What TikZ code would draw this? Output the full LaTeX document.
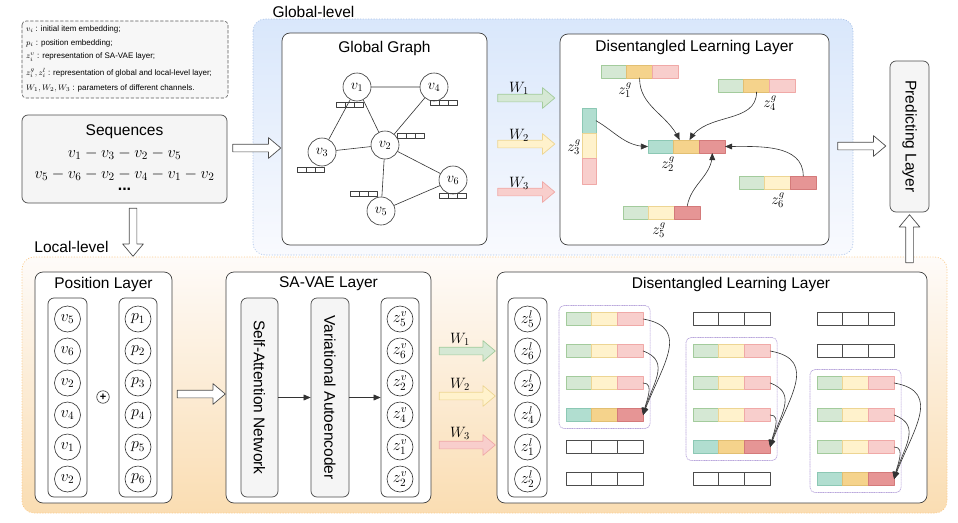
\documentclass[tikz,border=0pt]{standalone}
\usepackage{fix-cm}
\usepackage[no-math]{fontspec}
\setmainfont{Liberation Sans}
\usetikzlibrary{arrows}
\usetikzlibrary{positioning,calc,fit,shapes.arrows}

\definecolor{grnF}{HTML}{D5E8D4}
\definecolor{grnD}{HTML}{A3CB9C}
\definecolor{yelF}{HTML}{FFF2CC}
\definecolor{yelD}{HTML}{EDD593}
\definecolor{pnkF}{HTML}{F8CECC}
\definecolor{pnkD}{HTML}{F0A9A7}
\definecolor{tealF}{HTML}{B1DED0}
\definecolor{tealD}{HTML}{8CC8B4}
\definecolor{orgF}{HTML}{F5D38C}
\definecolor{orgD}{HTML}{E2BF72}
\definecolor{redF}{HTML}{E69595}
\definecolor{redD}{HTML}{D47A7A}
\definecolor{gbgF}{HTML}{F5F5F5}
\definecolor{blueTop}{HTML}{D9E7FB}
\definecolor{blueBot}{HTML}{F9FAFE}
\definecolor{blueLine}{HTML}{A9C2E8}
\definecolor{orgTop}{HTML}{FEFBF9}
\definecolor{orgBot}{HTML}{FADDB2}
\definecolor{orgLine}{HTML}{FBCB8C}
\definecolor{grpLine}{HTML}{B7A4DB}

% three cells in a row, west end at (#2,#3)
\newcommand{\cellbar}[6]{%
\node[cell,#4,anchor=west] (#1-1) at (#2,#3) {};
\node[cell,#5,right=0pt of #1-1] (#1-2) {};
\node[cell,#6,right=0pt of #1-2] (#1-3) {};
}
% small embedding bar of a graph vertex
\newcommand{\minibar}[2]{%
\draw[line width=0.6pt,draw=black!75] (#1-13.5,#2-2.5) rectangle (#1+13.5,#2+2.5);
\draw[line width=0.6pt,draw=black!75] (#1-4.5,#2-2.5) -- (#1-4.5,#2+2.5) (#1+4.5,#2-2.5) -- (#1+4.5,#2+2.5);
}

\begin{document}
\begin{tikzpicture}[line cap=round,line join=round,>=triangle 45,x=1pt,y=-1pt,
ttl/.style={font=\fontsize{15.5}{18}\selectfont},
box/.style={draw=black!75,fill=white,rounded corners=8pt,line width=0.7pt},
gbox/.style={draw=black!70,fill=gbgF,rounded corners=6pt,line width=0.7pt},
col/.style={draw=black!75,fill=white,rounded corners=6pt,line width=0.7pt,minimum width=39pt,minimum height=199pt},
vtx/.style={circle,draw=black!80,fill=white,minimum size=26pt,inner sep=0pt,line width=0.6pt,font=\fontsize{16}{16}\selectfont},
gvtx/.style={vtx,minimum size=28pt,font=\fontsize{14.5}{14.5}\selectfont},
cell/.style={minimum width=25.7pt,minimum height=13pt,inner sep=0pt,outer sep=0pt,line width=0.7pt},
vcell/.style={minimum width=14pt,minimum height=25.3pt,inner sep=0pt,outer sep=0pt,line width=0.7pt},
cg/.style={fill=grnF,draw=grnD},
cy/.style={fill=yelF,draw=yelD},
cp/.style={fill=pnkF,draw=pnkD},
ct/.style={fill=tealF,draw=tealD},
co/.style={fill=orgF,draw=orgD},
cr/.style={fill=redF,draw=redD},
cw/.style={fill=white,draw=black!70},
conn/.style={draw=black!80,line width=0.6pt},
fat/.style={single arrow,draw=black!70,fill=white,line width=0.7pt,minimum height=48pt,inner xsep=0pt,inner ysep=3.5pt,single arrow head extend=6.5pt,single arrow tip angle=80},
vfat/.style={fat,inner xsep=3.5pt,inner ysep=0pt},
wfat/.style={fat,minimum height=57pt},
wlab/.style={font=\fontsize{15}{15}\selectfont},
zlab/.style={font=\fontsize{15}{15}\selectfont},
lgd/.style={anchor=west,font=\fontsize{8}{9}\selectfont,inner sep=0pt},
grp/.style={draw=grpLine,densely dotted,rounded corners=5pt,inner sep=7pt,line width=0.7pt}]
\useasboundingbox (0,0) rectangle (958,522);

% regions
\draw[rounded corners=12pt,top color=blueTop,bottom color=blueBot,draw=blueLine,dotted,line width=0.7pt] (253,19) rectangle (853,255);
\draw[rounded corners=12pt,top color=orgTop,bottom color=orgBot,draw=orgLine,dotted,line width=0.7pt] (22,257) rectangle (947,513);
\node[ttl] (glev) at (313.5,12) {Global-level};
\node[ttl] (llev) at (71.5,247) {Local-level};

% legend
\draw[densely dashed,draw=black!65,fill=black!3,rounded corners=4pt,line width=0.6pt] (22,21) rectangle (228,98);
\node[lgd] (lg1) at (26,29) {$v_i$ : initial item embedding;};
\node[lgd] (lg2) at (26,43) {$p_i$ : position embedding;};
\node[lgd] (lg3) at (26,57) {$z_i^v$ : representation of SA-VAE layer;};
\node[lgd] (lg4) at (26,73) {$z_i^g, z_i^l$ : representation of global and local-level layer;};
\node[lgd] (lg5) at (26,88) {$W_1, W_2, W_3$ : parameters of different channels.};

% sequences
\node[gbox,minimum width=205pt,minimum height=88pt] (seq) at (124.5,159) {};
\node[ttl] (seqt) at (124.5,132) {Sequences};
\node[font=\fontsize{16}{16}\selectfont] (seq1) at (124.5,154) {$v_1 - v_3 - v_2 - v_5$};
\node[font=\fontsize{16}{16}\selectfont] (seq2) at (124.5,175) {$v_5 - v_6 - v_2 - v_4 - v_1 - v_2$};
\node[font=\fontsize{16}{16}\selectfont] (seq3) at (124.5,189) {\textbf{...}};
\node[fat] (a1) at (254.5,148) {};
\node[vfat,shape border rotate=270] (a2) at (133,230) {};

% global graph
\node[box,minimum width=205pt,minimum height=212pt] (gg) at (384.5,139) {};
\node[ttl] (ggt) at (384.5,48) {Global Graph};
\node[gvtx] (v1) at (357,87) {$v_1$};
\node[gvtx] (v4) at (434,87) {$v_4$};
\node[gvtx] (v3) at (322,152) {$v_3$};
\node[gvtx] (v2) at (385,145) {$v_2$};
\node[gvtx] (v6) at (453,180) {$v_6$};
\node[gvtx] (v5) at (381,211) {$v_5$};
\draw[conn] (v1) -- (v4) (v1) -- (v3) (v1) -- (v2) (v4) -- (v2) (v3) -- (v2) (v2) -- (v6) (v2) -- (v5) (v5) -- (v6);
\foreach \x/\y in {350/105,444/103,411/136,311/170,364/194,453/196} {\minibar{\x}{\y}}

% channels to global disentangling
\node[wfat,fill=grnF,draw=grnD] (gw1) at (524,98) {};
\node[wfat,fill=yelF,draw=yelD] (gw2) at (524,144) {};
\node[wfat,fill=pnkF,draw=pnkD] (gw3) at (524,192) {};
\node[wlab] (gw1l) at (519,88) {$W_1$};
\node[wlab] (gw2l) at (519,135) {$W_2$};
\node[wlab] (gw3l) at (519,183) {$W_3$};

% global disentangled learning layer
\node[box,minimum width=269pt,minimum height=211pt] (gdl) at (694.5,139.5) {};
\node[ttl] (gdlt) at (694.5,47) {Disentangled Learning Layer};
\cellbar{z1}{601}{71.5}{cg}{co}{cp}
\cellbar{z4}{718}{85.5}{cg}{co}{cp}
\cellbar{z2}{648}{146.5}{ct}{co}{cr}
\cellbar{z6}{739}{182.5}{cg}{cy}{cr}
\cellbar{z5}{623}{212.5}{cg}{cy}{cr}
\node[vcell,ct] (z3-1) at (589,120.7) {};
\node[vcell,cy,below=0pt of z3-1] (z3-2) {};
\node[vcell,cp,below=0pt of z3-2] (z3-3) {};
\node[zlab] (z1l) at (625,90) {$z_1^g$};
\node[zlab] (z4l) at (770,103) {$z_4^g$};
\node[zlab] (z3l) at (574,147) {$z_3^g$};
\node[zlab] (z2l) at (668,164) {$z_2^g$};
\node[zlab] (z6l) at (778,200) {$z_6^g$};
\node[zlab] (z5l) at (659,230) {$z_5^g$};
\draw[conn,->] (z1-2.south) to[out=-90,in=115] ([xshift=-7pt]z2-2.north);
\draw[conn,->] (z4-2.south) to[out=-90,in=60] ([xshift=3pt]z2-2.north);
\draw[conn,->] (z3-1.east) to[out=-30,in=180] (z2-1.west);
\draw[conn,->] (z6-3.north) to[out=90,in=0] (z2-3.east);
\draw[conn,->] (z5-3.north) to[out=80,in=-90] (z2-3.south);

% predicting layer
\node[gbox,minimum width=39pt,minimum height=151pt] (pred) at (909.5,136.5) {};
\node[ttl,rotate=-90] (predt) at (pred) {Predicting Layer};
\node[fat] (a3) at (859.5,146) {};
\node[vfat,shape border rotate=90] (a4) at (909.5,241) {};

% position layer
\node[box,minimum width=137pt,minimum height=231pt] (pos) at (103.5,387.5) {};
\node[ttl] (post) at (103.5,284) {Position Layer};
\node[col] (vcol) at (67.5,397.5) {};
\node[col,minimum width=38pt] (pcol) at (138,397.5) {};
\node[circle,draw=black!80,minimum size=12.5pt,inner sep=0pt,line width=0.6pt,font=\fontsize{11}{11}\selectfont\bfseries] (plus) at (103,397) {+};
\node[fat] (a5) at (199,394) {};

% SA-VAE layer
\node[box,minimum width=205pt,minimum height=231pt] (sav) at (328.5,387.5) {};
\node[ttl] (savt) at (328.5,284) {SA-VAE Layer};
\node[gbox,minimum width=37pt,minimum height=199pt] (sa) at (259.5,397.5) {};
\node[ttl,rotate=-90] (sat) at (sa) {Self-Attention Network};
\node[gbox,minimum width=38pt,minimum height=199pt] (va) at (330,397.5) {};
\node[ttl,rotate=-90] (vat) at (va) {Variational Autoencoder};
\node[col,minimum width=38pt] (zvcol) at (400,397.5) {};
\draw[conn,->] (sa) -- (va);
\draw[conn,->] (va) -- (zvcol);

% channels to local disentangling
\node[wfat,minimum height=56pt,fill=grnF,draw=grnD] (lw1) at (465,351) {};
\node[wfat,minimum height=56pt,fill=yelF,draw=yelD] (lw2) at (465,396) {};
\node[wfat,minimum height=56pt,fill=pnkF,draw=pnkD] (lw3) at (465,445) {};
\node[wlab] (lw1l) at (460,339) {$W_1$};
\node[wlab] (lw2l) at (460,384) {$W_2$};
\node[wlab] (lw3l) at (460,433) {$W_3$};

% local disentangled learning layer
\node[box,minimum width=430pt,minimum height=231pt] (ldl) at (712,387.5) {};
\node[ttl] (ldlt) at (731,284) {Disentangled Learning Layer};
\node[col] (zlcol) at (527.5,397.5) {};

\foreach \i/\k/\y in {1/5/319,2/6/351,3/2/383,4/4/415,5/1/447,6/2/479} {
\node[vtx] (pv\i) at (67.5,\y) {$v_{\k}$};
\node[vtx] (pp\i) at (138,\y) {$p_{\i}$};
\node[vtx] (zv\i) at (400,\y) {$z_{\k}^{v}$};
\node[vtx] (zl\i) at (527.5,\y) {$z_{\k}^{l}$};
}

\foreach \n/\x/\y/\fa/\fb/\fc in {a1/566/319/cg/cy/cp,a2/566/351/cg/cy/cp,a3/566/383/cg/cy/cp,a4/566/415/ct/co/cr,a5/566/447/cw/cw/cw,a6/566/479/cw/cw/cw,
b1/693/319/cw/cw/cw,b2/693/351/cg/cy/cp,b3/693/383/cg/cy/cp,b4/693/415/cg/cy/cp,b5/693/447/ct/co/cr,b6/693/479/cw/cw/cw,
c1/817/319/cw/cw/cw,c2/817/351/cw/cw/cw,c3/817/383/cg/cy/cp,c4/817/415/cg/cy/cp,c5/817/447/cg/cy/cp,c6/817/479/ct/co/cr} {
\cellbar{\n}{\x}{\y}{\fa}{\fb}{\fc}
}
\node[grp,fit=(a1-1)(a4-3)] (ga) {};
\node[grp,fit=(b2-1)(b5-3)] (gb) {};
\node[grp,fit=(c3-1)(c6-3)] (gc) {};
\foreach \s/\t/\o/\n/\l in {a1/a4/-10/70/1.35,a2/a4/-20/75/1.25,a3/a4/0/80/1,b2/b5/-10/70/1.35,b3/b5/-20/75/1.25,b4/b5/0/80/1,c3/c6/-10/70/1.35,c4/c6/-20/75/1.25,c5/c6/0/80/1} {
\draw[conn,->] (\s-3.east) to[out=\o,in=\n,looseness=\l] (\t-3.east);
}
\end{tikzpicture}
\end{document}
